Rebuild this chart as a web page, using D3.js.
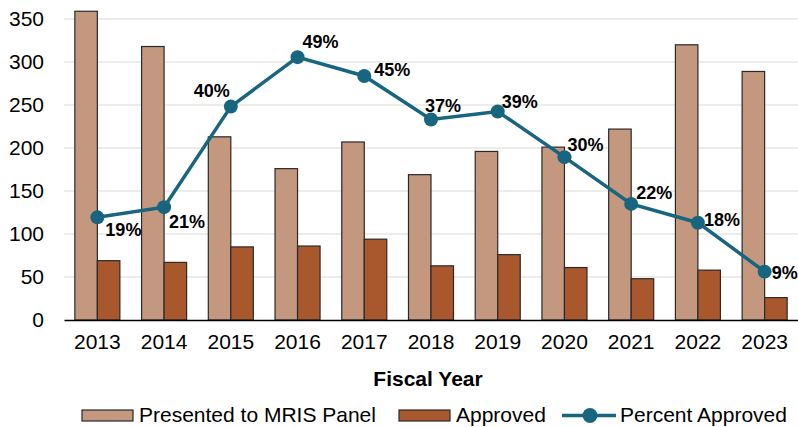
<!DOCTYPE html>
<html>
<head>
<meta charset="utf-8">
<script src="https://cdn.jsdelivr.net/npm/d3@7"></script>
<style>
  body { margin: 0; background: #fff; }
  text { font-family: "Liberation Sans", Arial, sans-serif; }
</style>
</head>
<body>
<div id="chart"></div>
<script>
var years = ["2013", "2014", "2015", "2016", "2017", "2018", "2019", "2020", "2021", "2022", "2023"];
var presented = [359, 318, 213, 176, 207, 169, 196, 201, 222, 320, 289];
var approved = [69, 67, 85, 86, 94, 63, 76, 61, 48, 58, 26];
var pctApproved = [19.1, 21.0, 39.7, 48.9, 45.4, 37.3, 38.8, 30.3, 21.6, 18.1, 9.0];
var pctLabels = ["19%", "21%", "40%", "49%", "45%", "37%", "39%", "30%", "22%", "18%", "9%"];
var yTicks = [0, 50, 100, 150, 200, 250, 300, 350];

// where each % label sits relative to its dot
var labelOff = [[8, 19, "start"], [5, 21, "start"], [-1, -10, "end"], [5, -9, "start"],
  [10, 0, "start"], [-6, -8, "start"], [4, -3, "start"], [3, -6, "start"],
  [5, -5, "start"], [6, 3, "start"], [7, 7, "start"]];

var W = 798, H = 427;
var pLeft = 64, pRight = 798, pTop = 19, pBottom = 320;

var svg = d3.select("#chart").append("svg")
  .attr("width", W).attr("height", H);

var x = d3.scaleBand().domain(years).range([pLeft, pRight]).padding(0);
var xs = d3.scaleBand().domain(["p", "a"]).range([0, x.bandwidth()])
  .paddingInner(0).paddingOuter(0.482);
var y = d3.scaleLinear().domain([0, 350]).range([pBottom, pTop]);
var y2 = d3.scaleLinear().domain([0, 56]).range([pBottom, pTop]);

// gridlines
svg.append("g").selectAll("line")
  .data(yTicks.slice(1))
  .enter().append("line")
  .attr("x1", pLeft).attr("x2", pRight)
  .attr("y1", function(d) { return y(d); })
  .attr("y2", function(d) { return y(d); })
  .attr("stroke", "#e6e6e1")
  .attr("stroke-width", 1.5);

// y axis labels
var yAxis = svg.append("g")
  .attr("transform", "translate(" + pLeft + ",0)")
  .call(d3.axisLeft(y).tickValues(yTicks).tickSize(0).tickPadding(20));
yAxis.select(".domain").remove();
yAxis.selectAll("text")
  .style("font-size", "21px")
  .style("font-family", "Liberation Sans, Arial, sans-serif")
  .attr("fill", "#000");

// bars
var groups = svg.append("g").selectAll("g")
  .data(years)
  .enter().append("g")
  .attr("transform", function(d) { return "translate(" + x(d) + ",0)"; });

groups.append("rect")
  .attr("x", xs("p"))
  .attr("y", function(d, i) { return y(presented[i]); })
  .attr("width", xs.bandwidth())
  .attr("height", function(d, i) { return pBottom - y(presented[i]); })
  .attr("fill", "#c4977f")
  .attr("stroke", "#2a2a2a")
  .attr("stroke-width", 1.2);

groups.append("rect")
  .attr("x", xs("a"))
  .attr("y", function(d, i) { return y(approved[i]); })
  .attr("width", xs.bandwidth())
  .attr("height", function(d, i) { return pBottom - y(approved[i]); })
  .attr("fill", "#a9582d")
  .attr("stroke", "#2a2a2a")
  .attr("stroke-width", 1.2);

// x axis
var xAxis = svg.append("g")
  .attr("transform", "translate(0," + pBottom + ")")
  .call(d3.axisBottom(x).tickSize(0).tickPadding(14));
xAxis.select(".domain").attr("stroke", "#000").attr("stroke-width", 1.5);
xAxis.selectAll("text")
  .style("font-size", "21px")
  .style("font-family", "Liberation Sans, Arial, sans-serif")
  .attr("fill", "#000");

svg.append("text")
  .attr("x", 428)
  .attr("y", 386)
  .attr("text-anchor", "middle")
  .style("font-size", "21px")
  .style("font-weight", "bold")
  .text("Fiscal Year");

// percent line
var cx = function(d, i) { return x(years[i]) + x.bandwidth() / 2; };
var line = d3.line()
  .x(function(d, i) { return cx(d, i); })
  .y(function(d) { return y2(d); });

svg.append("path")
  .datum(pctApproved)
  .attr("d", line)
  .attr("fill", "none")
  .attr("stroke", "#17657e")
  .attr("stroke-width", 3.5);

svg.append("g").selectAll("circle")
  .data(pctApproved)
  .enter().append("circle")
  .attr("cx", cx)
  .attr("cy", function(d) { return y2(d); })
  .attr("r", 7)
  .attr("fill", "#17657e");

svg.append("g").selectAll("text")
  .data(pctApproved)
  .enter().append("text")
  .attr("x", function(d, i) { return cx(d, i) + labelOff[i][0]; })
  .attr("y", function(d, i) { return y2(d) + labelOff[i][1]; })
  .attr("text-anchor", function(d, i) { return labelOff[i][2]; })
  .style("font-size", "18px")
  .style("font-weight", "bold")
  .text(function(d, i) { return pctLabels[i]; });

// legend
var leg = svg.append("g");
leg.append("rect").attr("x", 82).attr("y", 410).attr("width", 51).attr("height", 11)
  .attr("fill", "#c4977f").attr("stroke", "#2a2a2a").attr("stroke-width", 1.2);
leg.append("text").attr("x", 139).attr("y", 421.5).style("font-size", "21px")
  .text("Presented to MRIS Panel");
leg.append("rect").attr("x", 399).attr("y", 410).attr("width", 51).attr("height", 11)
  .attr("fill", "#a9582d").attr("stroke", "#2a2a2a").attr("stroke-width", 1.2);
leg.append("text").attr("x", 456).attr("y", 421.5).style("font-size", "21px")
  .text("Approved");
leg.append("line").attr("x1", 562).attr("x2", 616).attr("y1", 415.5).attr("y2", 415.5)
  .attr("stroke", "#17657e").attr("stroke-width", 3.5);
leg.append("circle").attr("cx", 590).attr("cy", 415.5).attr("r", 7.5).attr("fill", "#17657e");
leg.append("text").attr("x", 620).attr("y", 421.5).style("font-size", "21px")
  .text("Percent Approved");
</script>
</body>
</html>
